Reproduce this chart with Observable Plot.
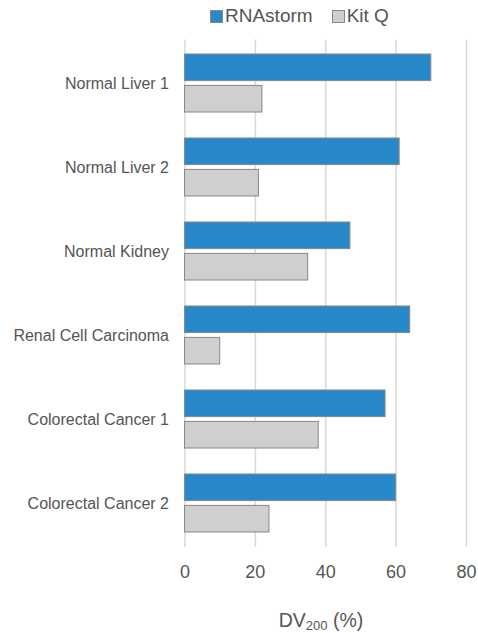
<!DOCTYPE html>
<html>
<head>
<meta charset="utf-8">
<script src="https://cdn.jsdelivr.net/npm/d3@7"></script>
<script src="https://cdn.jsdelivr.net/npm/@observablehq/plot@0.6"></script>
<style>
  html, body { margin: 0; padding: 0; background: #fff; }
  body { width: 478px; height: 633px; overflow: hidden; font-family: "Liberation Sans", Arial, sans-serif; color: #555; }
  #legend { height: 32px; display: flex; align-items: center; padding-left: 210px; box-sizing: border-box; font-size: 19px; color: #555; }
  .item { display: flex; align-items: center; }
  .sw { width: 11px; height: 11px; border: 1px solid #888; margin-right: 2px; }
  #caption { height: 33px; box-sizing: border-box; padding-top: 9px; font-size: 19.5px; line-height: 22px; text-align: center; padding-left: 164px; color: #555; }
  #caption sub { font-size: 13px; vertical-align: -3px; line-height: 0; }
</style>
</head>
<body>
<div id="legend"></div>
<div id="chart"></div>
<div id="caption">DV<sub>200</sub> (%)</div>
<script>
const categories = ["Normal Liver 1", "Normal Liver 2", "Normal Kidney", "Renal Cell Carcinoma", "Colorectal Cancer 1", "Colorectal Cancer 2"];
const seriesNames = ["RNAstorm", "Kit Q"];
const rnastorm = [70, 61, 47, 64, 57, 60];
const kitQ = [22, 21, 35, 10, 38, 24];
const xTicks = [0, 20, 40, 60, 80];
const colors = ["#2788CA", "#D0CECF"];

const table = categories.map((c, i) => ({category: c, rnastorm: rnastorm[i], kitQ: kitQ[i]}));

// legend
const legend = document.getElementById("legend");
seriesNames.forEach((name, i) => {
  const it = document.createElement("div");
  it.className = "item";
  if (i > 0) it.style.marginLeft = "19px";
  const sw = document.createElement("span");
  sw.className = "sw";
  sw.style.background = colors[i];
  const t = document.createElement("span");
  t.textContent = name;
  it.appendChild(sw); it.appendChild(t);
  legend.appendChild(it);
});

const barH = 27;
const chart = Plot.plot({
  width: 478,
  height: 568,
  marginLeft: 184.5,
  marginRight: 12,
  marginTop: 7.4,
  marginBottom: 53,
  style: {fontFamily: "Liberation Sans, Arial, sans-serif", color: "#555", background: "#fff"},
  x: {domain: [0, 80], ticks: xTicks},
  y: {domain: categories, paddingInner: 0.31, paddingOuter: 0.155},
  marks: [
    Plot.gridX(xTicks, {stroke: "#d9d9d9", strokeOpacity: 1, strokeWidth: 1.5}),
    Plot.barX(table, {x: "rnastorm", y: "category", fill: colors[0], stroke: "#888", strokeWidth: 1, insetBottom: 58.4 - barH}),
    Plot.barX(table, {x: "kitQ", y: "category", fill: colors[1], stroke: "#888", strokeWidth: 1, insetTop: 58.4 - barH}),
    Plot.axisX({ticks: xTicks, tickSize: 0, tickPadding: 18, fontSize: 18, label: null, fill: "#555"}),
    Plot.axisY({tickSize: 0, tickPadding: 16, fontSize: 16, label: null, fill: "#555"})
  ]
});
document.getElementById("chart").appendChild(chart);
</script>
</body>
</html>
